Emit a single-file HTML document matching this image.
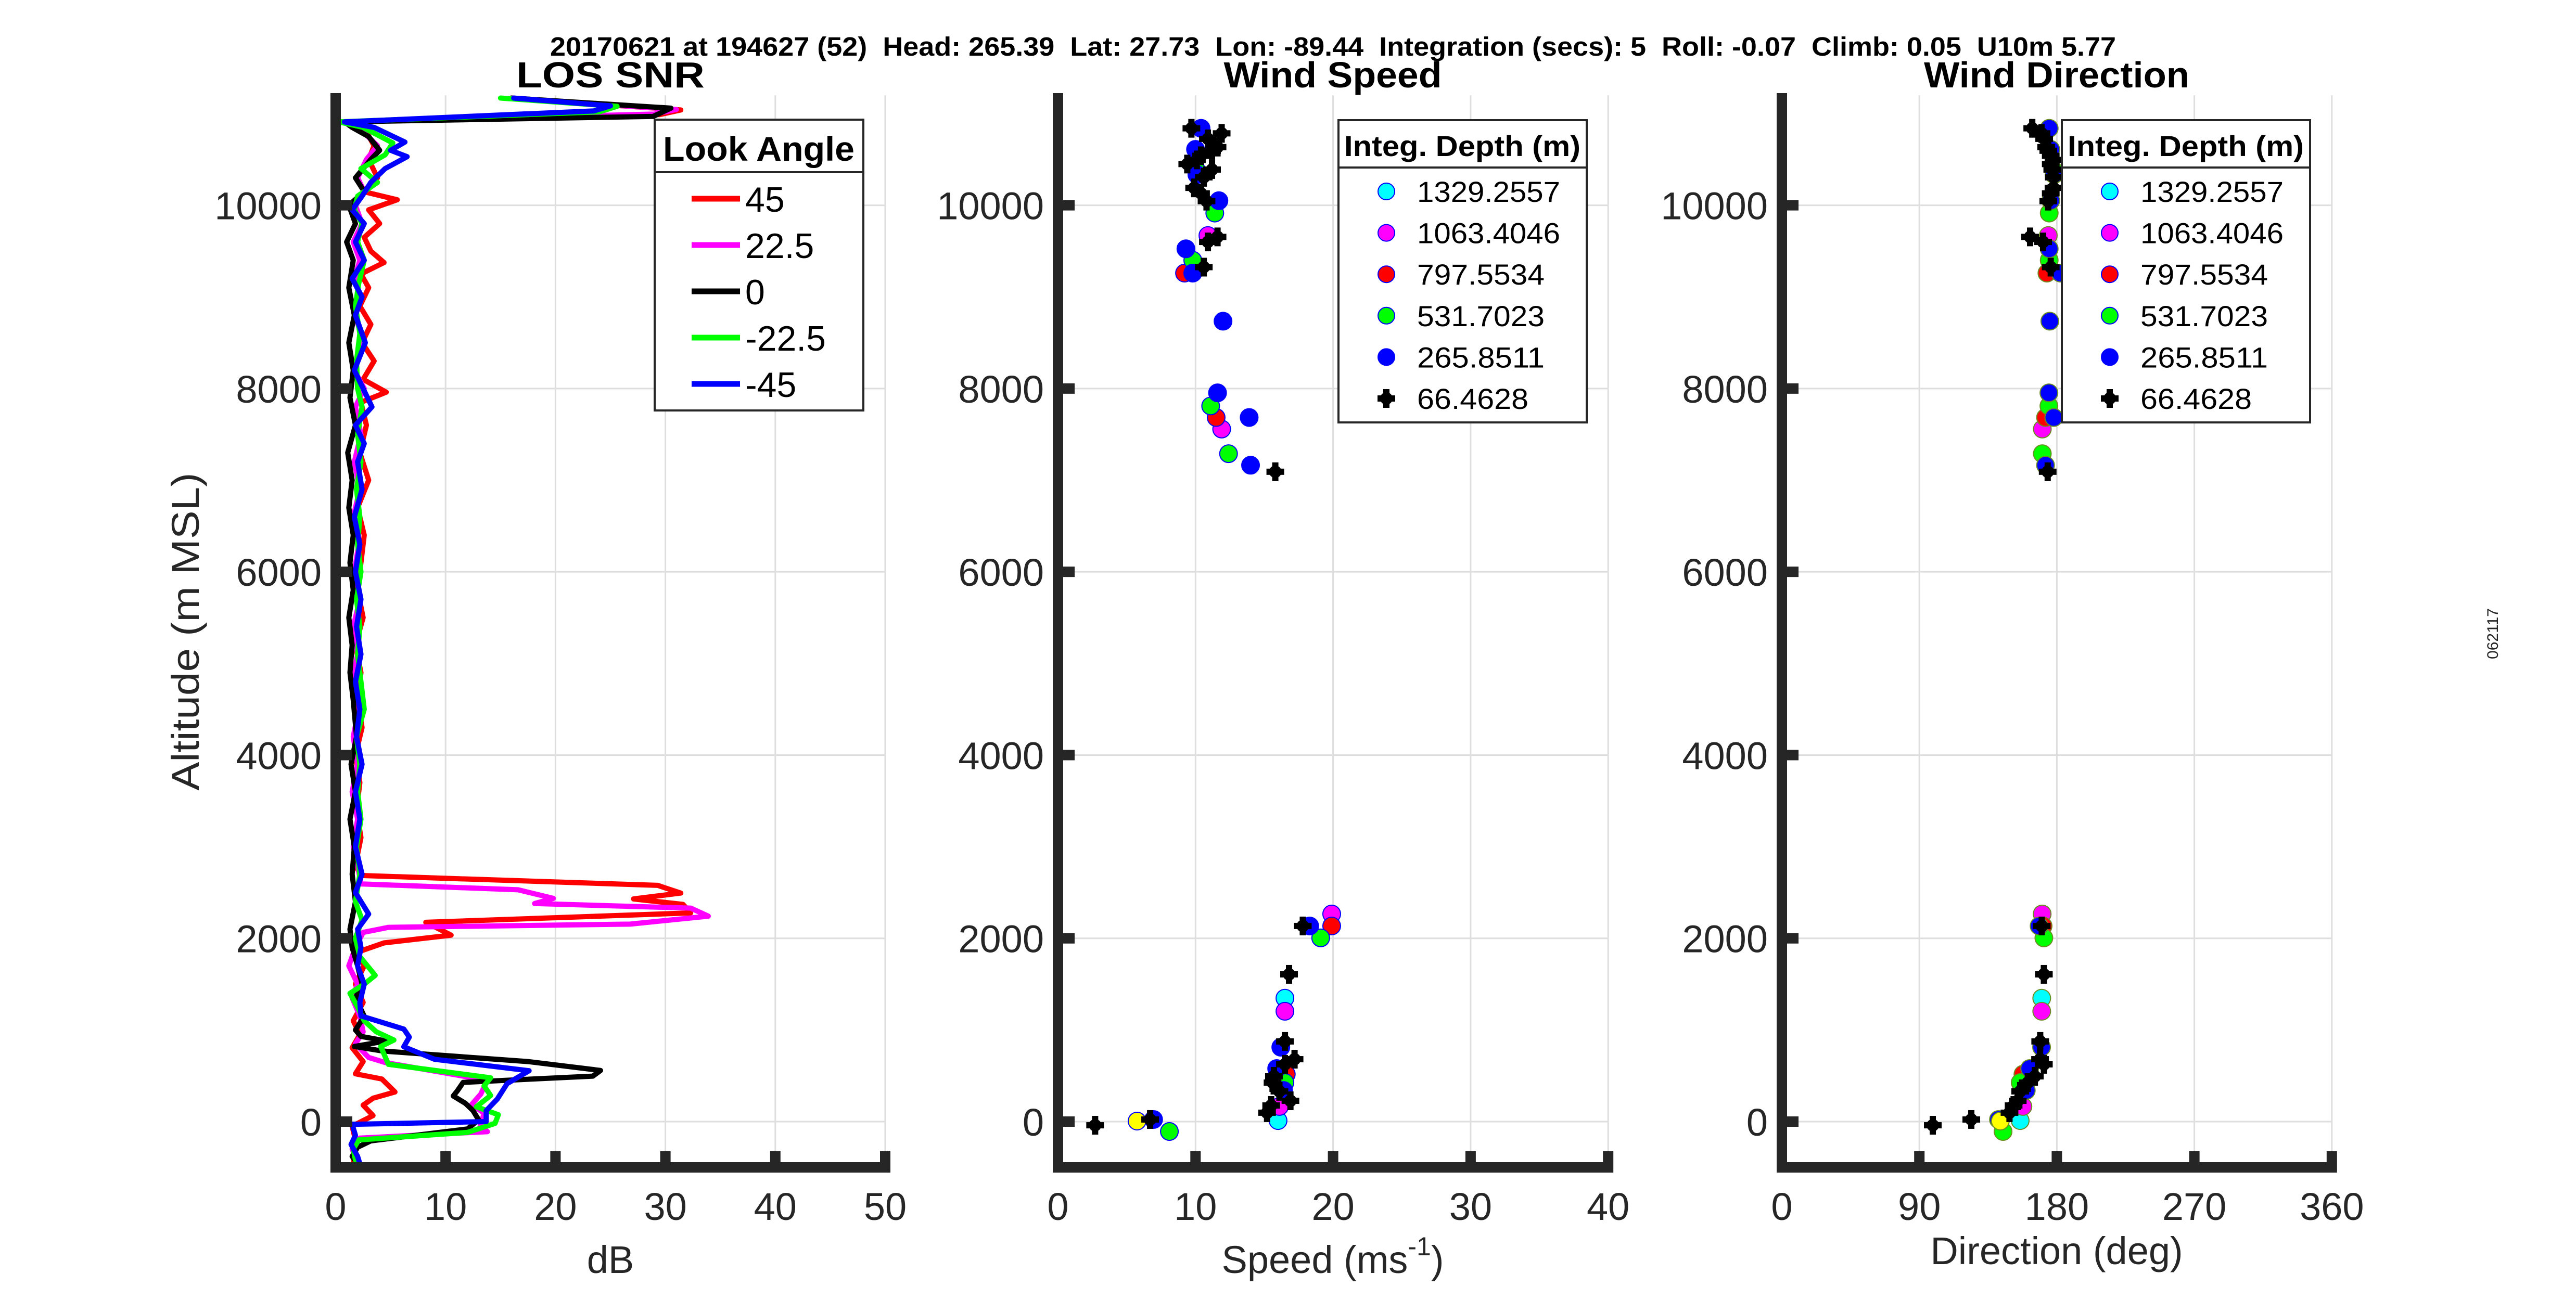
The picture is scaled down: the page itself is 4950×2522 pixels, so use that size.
<!DOCTYPE html>
<html><head><meta charset="utf-8"><title>LOS SNR / Wind Speed / Wind Direction</title>
<style>
html,body{margin:0;padding:0;background:#fff;}
svg{display:block;font-family:"Liberation Sans",Arial,sans-serif;}
</style></head>
<body>
<svg id="fig" xmlns="http://www.w3.org/2000/svg" width="4950" height="2522" viewBox="0 0 4950 2522">
<rect x="0" y="0" width="4950" height="2522" fill="#fff"/>
<text x="1057" y="107" font-size="51" font-weight="bold" fill="#000" textLength="3009" lengthAdjust="spacingAndGlyphs" xml:space="preserve">20170621 at 194627 (52)  Head: 265.39  Lat: 27.73  Lon: -89.44  Integration (secs): 5  Roll: -0.07  Climb: 0.05  U10m 5.77</text>
<text x="1173" y="168" font-size="70" font-weight="bold" text-anchor="middle" textLength="362" lengthAdjust="spacingAndGlyphs">LOS SNR</text>
<text x="2561" y="168" font-size="70" font-weight="bold" text-anchor="middle" textLength="419" lengthAdjust="spacingAndGlyphs">Wind Speed</text>
<text x="3952" y="168" font-size="70" font-weight="bold" text-anchor="middle" textLength="510" lengthAdjust="spacingAndGlyphs">Wind Direction</text>
<text transform="translate(382,1214) rotate(-90)" font-size="74" fill="#262626" text-anchor="middle" textLength="611" lengthAdjust="spacingAndGlyphs">Altitude (m MSL)</text>
<text x="1173" y="2447" font-size="74" fill="#262626" text-anchor="middle">dB</text>
<text x="2561" y="2447" font-size="74" fill="#262626" text-anchor="middle">Speed (ms<tspan font-size="50" dy="-34">-1</tspan><tspan dy="34">)</tspan></text>
<text x="3952" y="2430" font-size="74" fill="#262626" text-anchor="middle">Direction (deg)</text>
<text transform="translate(4800,1218) rotate(-90)" font-size="30" fill="#262626" text-anchor="middle">062117</text>
<g id="layer"></g>
</svg>
<script>
// ---------- data ----------
const altTicks = [0, 2000, 4000, 6000, 8000, 10000];
const snrTicks = [0, 10, 20, 30, 40, 50];
const speedTicks = [0, 10, 20, 30, 40];
const dirTicks = [0, 90, 180, 270, 360];
const lookAngles = ["45", "22.5", "0", "-22.5", "-45"];
// [altitude m, dB]
const snr45 = [[11170,16],[11040,31.4],[10990,29.5],[10910,1.0],[10800,2.8],[10650,3.5],[10500,3.0],[10300,3.8],[10150,2.5],[10060,5.6],[9950,3.0],[9800,4.0],[9650,2.6],[9500,3.2],[9375,4.4],[9250,2.3],[9100,3.0],[8900,2.2],[8700,3.2],[8500,2.4],[8300,3.5],[8100,2.5],[7960,4.6],[7850,2.3],[7600,2.8],[7300,2.2],[7000,3.0],[6700,2.0],[6400,2.6],[6100,2.3],[5800,2.0],[5500,2.5],[5200,1.8],[4900,2.3],[4600,2.0],[4300,2.4],[4000,1.8],[3700,2.2],[3400,1.9],[3100,2.3],[2800,1.8],[2686,2.3],[2578,29.3],[2494,31.4],[2430,27.1],[2370,31.6],[2277,32.3],[2175,8.2],[2035,10.5],[1950,4.4],[1850,2.0],[1700,2.6],[1500,1.8],[1300,2.5],[1100,1.6],[950,2.2],[806,1.5],[655,2.5],[522,1.8],[465,4.2],[323,5.4],[255,3.4],[180,2.5],[66,3.4],[-50,1.5],[-200,1.8],[-350,1.6],[-500,1.7]];
const snr22 = [[11170,16],[11045,31],[10995,29],[10910,0.8],[10800,2.5],[10650,3.8],[10500,2.8],[10300,2.0],[10150,2.6],[10000,1.8],[9800,2.4],[9600,1.6],[9400,2.2],[9200,1.7],[9000,2.3],[8800,1.8],[8500,2.5],[8200,1.7],[8000,2.6],[7800,1.8],[7500,2.3],[7200,1.7],[6900,2.2],[6600,1.6],[6300,2.1],[6000,1.7],[5700,2.2],[5400,1.6],[5100,2.0],[4800,1.5],[4500,2.1],[4200,1.6],[3900,2.0],[3600,1.5],[3300,2.0],[3000,1.6],[2800,2.0],[2594,2.3],[2530,16.6],[2436,19.8],[2380,18.1],[2330,32.3],[2242,33.9],[2155,26.8],[2120,4.8],[2065,2.5],[1900,1.8],[1700,1.2],[1500,2.0],[1350,1.5],[1150,2.2],[980,2.5],[850,1.8],[700,3.0],[645,4.5],[450,13.8],[300,13.2],[190,12.4],[90,13.5],[-40,13.2],[-110,13.8],[-180,2.2],[-300,1.5],[-420,1.9],[-500,1.6]];
const snr0 = [[11170,16],[11060,30.5],[10970,28.9],[10910,0.8],[10850,1.5],[10750,3.0],[10600,4.0],[10500,3.2],[10300,1.8],[10150,2.6],[10000,1.2],[9800,1.8],[9600,1.0],[9400,1.6],[9100,1.2],[8800,1.7],[8500,1.2],[8200,1.6],[7900,1.3],[7600,1.8],[7300,1.1],[7000,1.5],[6700,1.2],[6400,1.6],[6100,1.3],[5800,1.6],[5500,1.2],[5200,1.5],[4900,1.3],[4600,1.6],[4200,1.9],[3900,1.4],[3600,1.8],[3300,1.3],[3000,1.7],[2700,1.5],[2400,1.8],[2100,1.3],[1900,1.5],[1700,2.0],[1500,2.4],[1350,1.8],[1150,2.6],[1000,1.8],[930,2.3],[880,4.6],[820,1.7],[770,4.3],[655,17.5],[558,24.1],[496,23.4],[428,11.6],[340,11.1],[280,10.7],[200,11.8],[120,12.5],[20,13.0],[-80,12.0],[-210,3.2],[-280,2.0],[-380,1.5],[-460,2.0],[-500,1.2]];
const snrM22 = [[11170,15],[11080,25.6],[11020,24],[10910,0.3],[10850,2.5],[10680,5.2],[10550,4.5],[10400,2.3],[10250,3.8],[10100,2.0],[9950,1.7],[9800,2.4],[9600,2.0],[9400,2.6],[9150,2.1],[8900,1.8],[8600,2.2],[8300,1.9],[8000,2.0],[7800,2.4],[7500,2.0],[7200,2.3],[6900,1.9],[6600,2.2],[6300,2.0],[6000,2.3],[5700,1.9],[5400,2.2],[5100,2.0],[4800,2.3],[4500,2.6],[4200,1.9],[3900,2.2],[3600,2.0],[3300,2.3],[3000,1.9],[2700,2.2],[2400,1.8],[2200,2.4],[2000,1.8],[1800,2.2],[1596,3.6],[1500,2.6],[1400,1.3],[1250,2.0],[1100,2.6],[980,3.7],[890,5.3],[820,4.1],[625,4.8],[478,14.1],[390,13.5],[285,14.1],[162,12.8],[75,14.8],[-20,14.5],[-118,12.0],[-200,2.1],[-300,1.6],[-420,1.8],[-500,2.2]];
const snrM45 = [[11170,16.2],[11085,25],[11030,23.5],[10910,0.8],[10850,3.5],[10690,6.3],[10600,5.0],[10530,6.5],[10400,4.5],[10250,3.2],[10100,2.4],[9950,1.5],[9800,2.6],[9600,1.8],[9400,2.6],[9200,1.5],[9000,2.4],[8800,1.8],[8500,2.7],[8200,1.7],[8000,2.5],[7800,3.3],[7600,1.8],[7400,2.6],[7200,2.0],[6900,2.4],[6600,1.7],[6300,2.2],[6000,1.8],[5700,2.3],[5400,1.9],[5100,2.3],[4800,1.8],[4500,2.2],[4200,1.9],[3900,2.4],[3600,1.8],[3300,2.2],[3000,1.8],[2700,2.4],[2500,1.8],[2265,3.0],[2100,2.0],[1900,2.3],[1700,2.0],[1500,2.6],[1300,2.2],[1153,2.3],[1010,6.2],[922,6.7],[817,6.2],[680,9.0],[555,17.6],[415,15.6],[245,14.7],[120,13.7],[0,13.7],[-30,1.5],[-150,1.8],[-250,1.4],[-380,2.0],[-500,2.3]];

const depthLabels = ["1329.2557", "1063.4046", "797.5534", "531.7023", "265.8511", "66.4628"];
// [altitude m, speed m/s, direction deg]
const wind1329 = [[1347,16.5,170.1],[11,16.0,156]];
const wind1063 = [[9670,10.9,174.4],[7558,11.9,170.5],[2266,19.9,170.4],[1204,16.5,170.1],[165,16.1,157.8]];
const wind797 = [[9260,9.2,173.5],[7684,11.5,172.6],[2135,19.9,171],[517,16.6,157.8]];
const wind531 = [[10375,10.1,178.2],[9915,11.4,175],[9400,9.8,175],[7810,11.1,174.8],[7289,12.4,170.5],[2005,19.1,171.5],[426,16.5,156],[-108,8.1,144.8]];
const wind265 = [[10840,10.4,175],[10610,10.0,176],[10335,10.1,178.2],[10050,11.7,176],[9525,9.3,175],[9260,9.8,182.3],[8735,12.0,175.4],[7953,11.6,174.8],[7684,13.9,178],[7163,14.0,172.6],[2135,18.3,168.4],[812,16.2,170],[579,15.9,162.2],[340,16.4,160],[23,6.95,141.8]];
const windExtra = [[6,5.75,143]];
const wind66 = [[10840,9.7,163.9],[10785,11.9,170],[10725,10.9,171.7],[10635,11.6,173],[10595,11.2,174.4],[10540,10.4,176],[10495,10.1,177.8],[10450,9.4,176],[10390,11.2,177],[10305,10.6,178],[10190,9.9,177.8],[10130,10.4,176],[10045,10.8,174.4],[9655,11.6,162.5],[9600,10.9,171],[9325,10.6,176],[7092,15.8,174],[2135,17.8,170.1],[1607,16.8,171.5],[875,16.5,169.1],[681,17.2,169],[625,16.5,171.5],[494,15.7,165.6],[426,15.6,161],[330,16.1,156],[227,16.9,154.4],[176,15.5,151.7],[97,15.2,149],[23,6.7,124],[-40,2.7,98.8]];

// ---------- layout ----------
const NS = "http://www.w3.org/2000/svg";
const layer = document.getElementById("layer");
const Y_MIN = -500, Y_MAX = 11200;
const yPix = a => 2156 - a * 0.17614;
const AX = "#262626";
const panels = [
  {key:"snr", x0:645, pxPer:21.12, max:50, ticks:snrTicks},
  {key:"speed", x0:2033, pxPer:26.43, max:40, ticks:speedTicks},
  {key:"dir", x0:3424, pxPer:2.9356, max:360, ticks:dirTicks}
];
function mk(tag, attrs, parent) {
  const e = document.createElementNS(NS, tag);
  for (const k in attrs) e.setAttribute(k, attrs[k]);
  (parent || layer).appendChild(e);
  return e;
}
function xPix(p, v) { return p.x0 + v * p.pxPer; }

// grids
panels.forEach(p => {
  const g = mk("g", {});
  
  
  const xr = xPix(p, p.max);
  altTicks.forEach(a => {
    const l = mk("line", {x1:p.x0, x2:xr, y1:yPix(a), y2:yPix(a), stroke:"#dedede", "stroke-width":3}, g);
    
    
  });
  p.ticks.forEach(t => {
    if (t === 0) return;
    const l = mk("line", {x1:xPix(p,t), x2:xPix(p,t), y1:yPix(Y_MAX), y2:2244, stroke:"#dedede", "stroke-width":3}, g);
    
    
  });
});

// SNR lines
const snrSeries = [snr45, snr22, snr0, snrM22, snrM45];
const snrColors = ["#ff0000", "#ff00ff", "#000000", "#00ff00", "#0000ff"];
snrSeries.forEach((s, i) => {
  const p = panels[0];
  const pts = s.map(d => xPix(p, d[1]).toFixed(1) + "," + yPix(d[0]).toFixed(1)).join(" ");
  const pl = mk("polyline", {points:pts, fill:"none", stroke:snrColors[i], "stroke-width":10, "stroke-linejoin":"round", "stroke-linecap":"round"});
  
  
});

// wind markers
const windSeries = [wind1329, wind1063, wind797, wind531, wind265, windExtra, wind66];
const windColors = ["#00ffff", "#ff00ff", "#ff0000", "#00ff00", "#0000ff", "#ffff00", "#000000"];
const windNames = ["1329", "1063", "797", "531", "265", "extra", "66"];
function plus(cx, cy, parent) {
  const g = mk("g", {}, parent);
  mk("circle", {cx:cx, cy:cy, r:12, fill:"#000"}, g);
  mk("rect", {x:cx-17, y:cy-6, width:34, height:12, fill:"#000"}, g);
  mk("rect", {x:cx-6, y:cy-18, width:12, height:36, fill:"#000"}, g);
  return g;
}
[1, 2].forEach(pi => {
  const p = panels[pi];
  windSeries.forEach((s, si) => {
    s.forEach(d => {
      const cx = xPix(p, pi === 1 ? d[1] : d[2]);
      const cy = yPix(d[0]);
      let m;
      if (windColors[si] === "#000000") {
        m = plus(cx, cy);
      } else {
        m = mk("circle", {cx:cx, cy:cy, r:17, fill:windColors[si], stroke:(pi === 1 ? "#0000ff" : "#6b8e23"), "stroke-width":2});
      }
      
      
    });
  });
});

// axes
panels.forEach(p => {
  const g = mk("g", {});
  
  
  const xr = xPix(p, p.max);
  mk("rect", {x:p.x0-10, y:179, width:20, height:2254-179, fill:AX}, g);
  mk("rect", {x:p.x0-10, y:2234, width:xr+10-(p.x0-10), height:20, fill:AX}, g);
  altTicks.forEach(a => {
    const y = yPix(a);
    mk("rect", {x:p.x0+10, y:y-10, width:22, height:20, fill:AX}, g);
    const t = mk("text", {x:p.x0-27, y:y+27, "font-size":74, fill:AX, "text-anchor":"end"}, g);
    t.textContent = String(a);
    
    
  });
  p.ticks.forEach(v => {
    const x = xPix(p, v);
    if (v !== 0) mk("rect", {x:x-10, y:2213, width:20, height:21, fill:AX}, g);
    const t = mk("text", {x:x, y:2345, "font-size":74, fill:AX, "text-anchor":"middle"}, g);
    t.textContent = String(v);
    
    
  });
});

// legend 1
(function(){
  const g = mk("g", {});
  
  
  mk("rect", {x:1258, y:230, width:401, height:559, fill:"#fff", stroke:AX, "stroke-width":4}, g);
  mk("line", {x1:1258, x2:1659, y1:331, y2:331, stroke:AX, "stroke-width":4}, g);
  const h = mk("text", {x:1458, y:309, "font-size":66, "font-weight":"bold", "text-anchor":"middle", textLength:368, lengthAdjust:"spacingAndGlyphs"}, g);
  h.textContent = "Look Angle";
  
  
  lookAngles.forEach((lab, i) => {
    const y = 382 + i * 89;
    const e = mk("g", {}, g);
    
    
    mk("line", {x1:1329, x2:1422, y1:y, y2:y, stroke:snrColors[i], "stroke-width":11}, e);
    const t = mk("text", {x:1432, y:y+25, "font-size":68, fill:"#000"}, e);
    t.textContent = lab;
  });
})();

// legends 2,3
[[2572, 2664, 2723, "speed"], [3962, 4054, 4113, "dir"]].forEach(L => {
  const g = mk("g", {});
  
  
  mk("rect", {x:L[0], y:231, width:477, height:581, fill:"#fff", stroke:AX, "stroke-width":4}, g);
  mk("line", {x1:L[0], x2:L[0]+477, y1:322, y2:322, stroke:AX, "stroke-width":4}, g);
  const h = mk("text", {x:L[0]+238, y:300, "font-size":56, "font-weight":"bold", "text-anchor":"middle", textLength:454, lengthAdjust:"spacingAndGlyphs"}, g);
  h.textContent = "Integ. Depth (m)";
  
  
  const legendColors = ["#00ffff", "#ff00ff", "#ff0000", "#00ff00", "#0000ff", "#000000"];
  depthLabels.forEach((lab, i) => {
    const y = 368 + i * 79.6;
    const e = mk("g", {}, g);
    
    
    if (i === 5) plus(L[1], y, e);
    else mk("circle", {cx:L[1], cy:y, r:16, fill:legendColors[i], stroke:"#0000ff", "stroke-width":2}, e);
    const t = mk("text", {x:L[2], y:y+20, "font-size":56, fill:"#000", textLength:(lab.length * 30.6).toFixed(0), lengthAdjust:"spacingAndGlyphs"}, e);
    t.textContent = lab;
  });
});
</script>
</body></html>
